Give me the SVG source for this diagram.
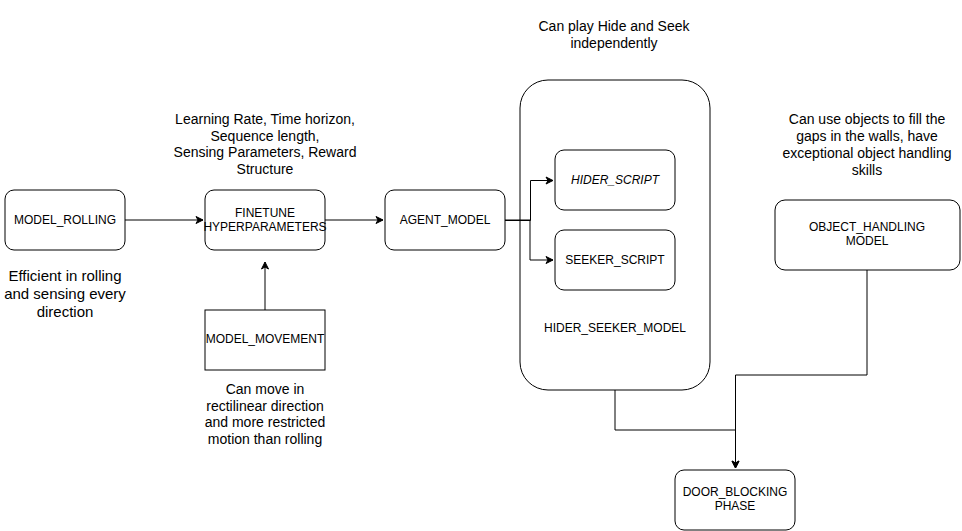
<svg xmlns="http://www.w3.org/2000/svg" width="962" height="531" viewBox="0 0 962 531">
<defs>
<marker id="ah" markerWidth="10" markerHeight="10" refX="8" refY="5" orient="auto" markerUnits="userSpaceOnUse">
<path d="M1,1.5 L8,5 L1,8.5 L3,5 Z" fill="#000" stroke="#000" stroke-width="1"/>
</marker>
</defs>
<style>
.box{fill:#fff;stroke:#000;stroke-width:1}
.lbl{font-family:"Liberation Sans",Arial,sans-serif;font-size:12px;fill:#000;text-anchor:middle}
.note{font-family:"Liberation Sans",Arial,sans-serif;font-size:14px;fill:#000;text-anchor:middle}
.big{font-size:15px}
.edge{fill:none;stroke:#000;stroke-width:1}
</style>
<rect width="962" height="531" fill="#fff"/>
<g id="model_rolling">
<rect class="box" x="5" y="190" width="120" height="60" rx="9"/>
<text class="lbl" x="65" y="224">MODEL_ROLLING</text>
</g>
<g id="finetune">
<rect class="box" x="205" y="190" width="120" height="60" rx="9"/>
<text class="lbl" x="265" y="217">FINETUNE</text>
<text class="lbl" x="265" y="231">HYPERPARAMETERS</text>
</g>
<g id="agent_model">
<rect class="box" x="385" y="190" width="120" height="60" rx="9"/>
<text class="lbl" x="445" y="224">AGENT_MODEL</text>
</g>
<g id="hider_seeker_model">
<rect class="box" x="520" y="80" width="190" height="310" rx="28"/>
<text class="lbl" x="615" y="332">HIDER_SEEKER_MODEL</text>
</g>
<g id="hider_script">
<rect class="box" x="555" y="150" width="120" height="60" rx="9"/>
<text class="lbl" x="615" y="184" font-style="italic">HIDER_SCRIPT</text>
</g>
<g id="seeker_script">
<rect class="box" x="555" y="230" width="120" height="60" rx="9"/>
<text class="lbl" x="615" y="264">SEEKER_SCRIPT</text>
</g>
<g id="model_movement">
<rect class="box" x="205" y="310" width="120" height="60"/>
<text class="lbl" x="265" y="343">MODEL_MOVEMENT</text>
</g>
<g id="object_handling">
<rect class="box" x="775" y="200" width="185" height="70" rx="10"/>
<text class="lbl" x="867" y="231">OBJECT_HANDLING</text>
<text class="lbl" x="867" y="245">MODEL</text>
</g>
<g id="door_blocking">
<rect class="box" x="675" y="470" width="120" height="60" rx="9"/>
<text class="lbl" x="735" y="496">DOOR_BLOCKING</text>
<text class="lbl" x="735" y="510">PHASE</text>
</g>
<g id="notes">
<text class="note big" x="65" y="281">Efficient in rolling</text>
<text class="note big" x="65" y="299">and sensing every</text>
<text class="note big" x="65" y="317">direction</text>
<text class="note" x="265" y="124">Learning Rate, Time horizon,</text>
<text class="note" x="265" y="141">Sequence length,</text>
<text class="note" x="265" y="157">Sensing Parameters, Reward</text>
<text class="note" x="265" y="174">Structure</text>
<text class="note" x="614" y="31">Can play Hide and Seek</text>
<text class="note" x="614" y="48">independently</text>
<text class="note" x="867" y="124">Can use objects to fill the</text>
<text class="note" x="867" y="141">gaps in the walls, have</text>
<text class="note" x="867" y="158">exceptional object handling</text>
<text class="note" x="867" y="175">skills</text>
<text class="note" x="265" y="394">Can move in</text>
<text class="note" x="265" y="411">rectilinear direction</text>
<text class="note" x="265" y="427">and more restricted</text>
<text class="note" x="265" y="444">motion than rolling</text>
</g>
<g id="connectors">
<path class="edge" d="M125,220 L203,220" marker-end="url(#ah)"/>
<path class="edge" d="M325,220 L383,220" marker-end="url(#ah)"/>
<path class="edge" d="M265,310 L265,262" marker-end="url(#ah)"/>
<path class="edge" d="M505,220 L530,220 L530,260 L553,260" marker-end="url(#ah)"/>
<path class="edge" d="M505,220.5 L530.5,220.5 L530.5,180.5 L553,180.5" stroke-width="1.5" marker-end="url(#ah)"/>
<path class="edge" d="M615,390 L615,430 L735.5,430 L735.5,468" marker-end="url(#ah)"/>
<path class="edge" d="M867,270 L867,375 L735.5,375 L735.5,468" marker-end="url(#ah)"/>
</g>
</svg>
